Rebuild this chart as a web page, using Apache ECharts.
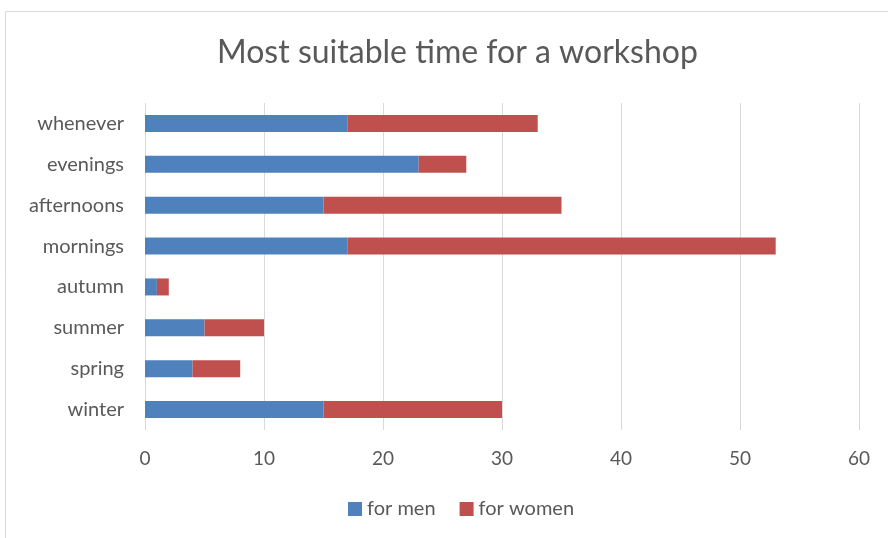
<!DOCTYPE html>
<html>
<head>
<meta charset="utf-8">
<script src="https://cdn.jsdelivr.net/npm/echarts@6/dist/echarts.min.js"></script>
<style>
html,body{margin:0;padding:0;background:#fff;}
#chart{width:888px;height:538px;}
</style>
</head>
<body>
<div id="chart"></div>
<script>
// Survey answers: preferred time slot, split by gender
const categories = ['winter', 'spring', 'summer', 'autumn', 'mornings', 'afternoons', 'evenings', 'whenever'];
const forMen   = [15, 4, 5, 1, 17, 15, 23, 17];
const forWomen = [15, 4, 5, 1, 36, 20, 4, 16];
const xTicks = { min: 0, max: 60, interval: 10 };

const FONT = 'Lato, "Open Sans", sans-serif';
const chart = echarts.init(document.getElementById('chart'));

chart.setOption({
  animation: false,
  backgroundColor: '#ffffff',
  graphic: [{
    type: 'rect',
    shape: { x: 5.5, y: 11.5, width: 900, height: 560 },
    style: { fill: 'none', stroke: '#d9d9d9', lineWidth: 1 },
    silent: true
  }],
  title: {
    text: 'Most suitable time for a workshop',
    left: 212,
    top: 32,
    textStyle: { fontFamily: FONT, fontSize: 32, fontWeight: 'normal', color: '#595959' }
  },
  legend: {
    bottom: 14,
    left: 343,
    itemWidth: 14,
    itemHeight: 14,
    itemGap: 24,
    icon: 'rect',
    textStyle: { fontFamily: FONT, fontSize: 20, color: '#595959' },
    data: ['for men', 'for women']
  },
  grid: { left: 145, right: 29, top: 103, bottom: 108, containLabel: false },
  xAxis: {
    type: 'value',
    min: xTicks.min,
    max: xTicks.max,
    interval: xTicks.interval,
    axisLine: { show: false },
    axisTick: { show: false },
    axisLabel: { fontFamily: FONT, fontSize: 19, color: '#595959', margin: 19 },
    splitLine: { lineStyle: { color: '#d9d9d9', width: 1 } }
  },
  yAxis: {
    type: 'category',
    data: categories,
    axisLine: { show: false },
    axisTick: { show: false },
    axisLabel: { fontFamily: FONT, fontSize: 20, color: '#595959', margin: 21 }
  },
  series: [
    {
      name: 'for men',
      type: 'bar',
      stack: 'total',
      barWidth: 17,
      data: forMen,
      itemStyle: { color: '#4f81bd' }
    },
    {
      name: 'for women',
      type: 'bar',
      stack: 'total',
      barWidth: 17,
      data: forWomen,
      itemStyle: { color: '#c0504d' }
    }
  ]
});
</script>
</body>
</html>
